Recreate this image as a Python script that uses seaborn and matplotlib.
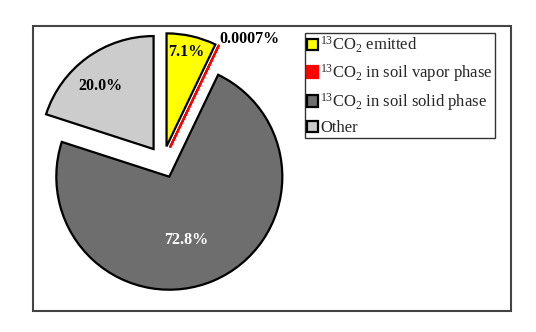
import numpy as np
import matplotlib
matplotlib.use("Agg")
import matplotlib.pyplot as plt
import seaborn as sns
from matplotlib.patches import Rectangle

# ---- data ----
categories = [r"$^{13}$CO$_2$ emitted",
              r"$^{13}$CO$_2$ in soil vapor phase",
              r"$^{13}$CO$_2$ in soil solid phase",
              "Other"]
values = [7.1, 0.0007, 72.8, 20.0]
value_labels = ["7.1%", "0.0007%", "72.8%", "20.0%"]
colors = ["#FFFF00", "#FF0000", "#6E6E6E", "#CCCCCC"]
edge_colors = ["black", "#FF0000", "black", "black"]
label_colors = ["black", "black", "white", "black"]
# label placement: (angle in degrees, distance as fraction of radius) from wedge apex
label_angle = [78, 54, -75, 130]
label_dist = [0.85, 1.19, 0.58, 0.73]

sns.set_theme(style="white")
plt.rcParams["font.family"] = ["Liberation Serif", "DejaVu Serif"]
plt.rcParams["mathtext.fontset"] = "custom"
plt.rcParams["mathtext.rm"] = "Liberation Serif"
plt.rcParams["mathtext.it"] = "Liberation Serif:italic"
plt.rcParams["mathtext.bf"] = "Liberation Serif:bold"

W, H = 536, 332
fig = plt.figure(figsize=(W / 100, H / 100), dpi=100)
fig.patch.set_facecolor("white")
ax = fig.add_axes([0, 0, 1, 1])

cx, cy, R, EXP = 163, H - 162, 113, 16
wedges, _ = ax.pie(values, colors=colors, startangle=90, counterclock=False,
                   center=(cx, cy), radius=R, explode=[EXP] * len(values),
                   wedgeprops=dict(linewidth=1.6))
for w, ec in zip(wedges, edge_colors):
    w.set_edgecolor(ec)

for w, txt, ang, d, tc in zip(wedges, value_labels, label_angle, label_dist, label_colors):
    ox, oy = w.center
    a = np.deg2rad(ang)
    ax.text(ox + d * R * np.cos(a), oy + d * R * np.sin(a), txt,
            ha="center", va="center", fontsize=11.5, fontweight="bold", color=tc)

ax.set_xlim(0, W)
ax.set_ylim(0, H)
ax.set_aspect("equal")
ax.axis("off")

leg = fig.legend(wedges, categories, loc="upper left",
                 bbox_to_anchor=(305 / W, 1 - 33 / H), borderaxespad=0,
                 fontsize=12, frameon=True, fancybox=False, edgecolor="black",
                 handlelength=0.65, handleheight=0.65, handletextpad=0.15,
                 labelspacing=0.42, borderpad=0.12)
leg.get_frame().set_linewidth(1.0)

fig.patches.append(Rectangle((33 / W, (H - 311) / H), 478 / W, 285 / H,
                             transform=fig.transFigure, fill=False,
                             edgecolor="#444444", linewidth=1.5))

fig.savefig("out.png", dpi=100, facecolor="white")
